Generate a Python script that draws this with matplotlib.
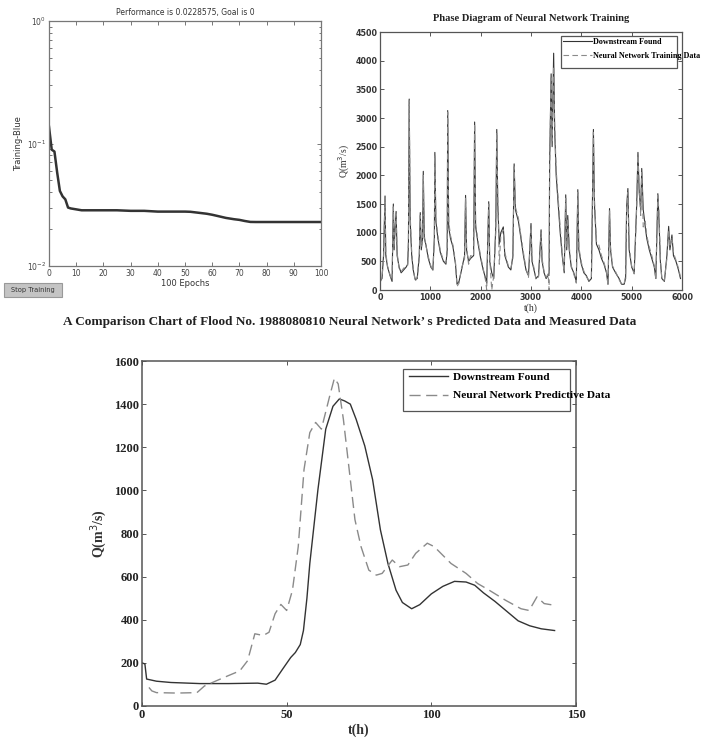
import matplotlib
matplotlib.use("Agg")
import matplotlib.pyplot as plt
from matplotlib.patches import Rectangle
from matplotlib.ticker import LogLocator, NullFormatter, MultipleLocator

# figure size in pixels
W, H = 712, 740

# --- training performance (top left) ---
epochs = [0, 1, 2, 3, 4, 5, 6, 7, 8, 10, 12, 15, 20, 25, 30, 35, 40, 45, 50,
          52, 55, 58, 60, 62, 65, 68, 70, 72, 74, 76, 80, 90, 100]
perf = [0.137, 0.089, 0.086, 0.058, 0.041, 0.037, 0.035, 0.030, 0.0295, 0.029,
        0.0285, 0.0285, 0.0285, 0.0285, 0.0282, 0.0282, 0.0278, 0.0278, 0.0278,
        0.0277, 0.0272, 0.0267, 0.0262, 0.0256, 0.0247, 0.0241, 0.0238, 0.0233,
        0.0229, 0.02286, 0.02286, 0.02286, 0.02286]

# --- training phase diagram (top right) ---
train_t = [0, 40, 70, 100, 115, 150, 200, 240, 265, 280, 300, 320, 340, 380, 420,
           470, 520, 550, 565, 580, 600, 630, 660, 700, 740, 780, 800, 820, 845,
           860, 880, 910, 960, 1010, 1050, 1080, 1090, 1110, 1150, 1200, 1260,
           1310, 1335, 1345, 1365, 1400, 1450, 1500, 1530, 1570, 1620, 1680, 1700,
           1720, 1760, 1800, 1860, 1880, 1900, 1950, 2000, 2050, 2100, 2120, 2160,
           2180, 2220, 2260, 2300, 2320, 2340, 2370, 2400, 2450, 2480, 2550, 2600,
           2640, 2665, 2690, 2750, 2800, 2850, 2900, 2950, 3000, 3020, 3060, 3100,
           3150, 3200, 3220, 3260, 3300, 3340, 3360, 3370, 3400, 3420, 3450, 3470,
           3500, 3540, 3580, 3620, 3660, 3690, 3710, 3730, 3760, 3800, 3850, 3900,
           3930, 3950, 4000, 4050, 4100, 4150, 4200, 4240, 4260, 4300, 4350, 4400,
           4450, 4500, 4530, 4560, 4580, 4620, 4680, 4750, 4800, 4850, 4880, 4900,
           4925, 4950, 5000, 5050, 5100, 5125, 5150, 5180, 5200, 5230, 5270, 5300,
           5350, 5400, 5450, 5480, 5520, 5540, 5570, 5600, 5650, 5700, 5735, 5760,
           5800, 5830, 5880, 5930, 5970]
train_obs = [150, 200, 600, 1640, 600, 400, 250, 150, 1500, 700, 1100, 1370, 600,
             400, 300, 350, 400, 450, 800, 3330, 1200, 600, 350, 180, 200, 600,
             1350, 700, 900, 2070, 900, 800, 550, 400, 350, 900, 2400, 1200, 900,
             650, 500, 450, 700, 3130, 1100, 900, 750, 450, 100, 150, 350, 600,
             1650, 700, 500, 550, 600, 2930, 1100, 800, 550, 350, 200, 120, 1540,
             500, 300, 200, 1100, 2800, 1500, 800, 1000, 1100, 600, 400, 350, 600,
             2200, 1400, 1200, 900, 600, 350, 250, 1160, 500, 350, 200, 250, 1050,
             500, 300, 200, 250, 300, 2200, 3770, 2500, 4130, 2800, 2000, 1500,
             1000, 600, 300, 1660, 700, 1300, 700, 400, 300, 150, 1750, 700, 450,
             300, 250, 150, 200, 2800, 1500, 800, 700, 550, 450, 300, 100, 1420,
             700, 400, 300, 200, 100, 100, 200, 1450, 1770, 700, 400, 300, 1500,
             2400, 1700, 1400, 2120, 1400, 1100, 900, 700, 550, 400, 200, 1680,
             1300, 500, 200, 150, 600, 1110, 700, 960, 600, 500, 350, 200]
train_pred = [120, 230, 550, 1600, 650, 420, 260, 170, 1450, 750, 1050, 1330, 650,
              380, 320, 380, 420, 430, 900, 3300, 1300, 650, 380, 150, 230, 550,
              1300, 750, 850, 2000, 950, 780, 580, 420, 330, 850, 2350, 1250, 950,
              680, 520, 470, 650, 3100, 1200, 950, 780, 480, 60, 120, 380, 550,
              1600, 750, 450, 600, 580, 2900, 1150, 850, 580, 380, 150, 0, 1500,
              550, 0, 250, 1000, 2750, 1600, 450, 950, 1050, 650, 420, 380, 550,
              2150, 1450, 1250, 950, 650, 380, 220, 1100, 550, 380, 180, 230, 1000,
              550, 320, 220, 280, 0, 2150, 3700, 2600, 3900, 2900, 2100, 1600,
              1100, 650, 320, 1600, 750, 1250, 750, 420, 280, 120, 1700, 750, 480,
              330, 230, 170, 220, 2750, 1600, 850, 780, 600, 480, 320, 80, 1380,
              750, 420, 320, 180, 100, 110, 250, 1400, 1700, 750, 420, 280, 1450,
              2350, 1800, 1300, 2050, 1100, 1200, 950, 750, 600, 420, 180, 1650,
              1400, 550, 180, 170, 550, 1050, 750, 920, 650, 520, 380, 230]

# --- flood 1988080810 comparison (bottom) ---
flood_obs_t = [0, 1, 1.6, 5, 10, 20, 30, 40, 43, 46, 48.6, 51.4, 53, 54.7, 55.8,
               57, 58, 60.8, 63.5, 66, 68.2, 70, 72, 74, 77, 79.7, 82.4, 85, 87.8,
               90, 93.2, 96, 100, 104, 108, 112, 115, 118, 122, 126, 130, 134,
               138, 142.6]
flood_obs_q = [200, 195, 125, 115, 109, 104, 104, 106, 101, 120, 171, 225, 248,
               285, 350, 500, 661, 1003, 1284, 1390, 1424, 1415, 1400, 1330, 1206,
               1050, 817, 661, 537, 480, 451, 470, 520, 555, 578, 575, 560, 525,
               485, 440, 395, 372, 358, 350]
flood_pred_t = [2.4, 3.4, 5, 12, 19, 21.6, 25.7, 29.7, 33.8, 36.5, 39, 41.9,
                43.9, 46, 48, 50, 52, 54, 56, 58, 60, 62, 64.9, 66.5, 67.8, 69.6,
                71.6, 73.6, 75.7, 78.4, 81, 83, 86.5, 89, 91.9, 94.6, 98.6, 101,
                106.8, 112, 116, 120, 125.7, 131, 133.8, 136.5, 139, 142.6]
flood_pred_q = [86, 70, 62, 60, 62, 93, 117, 140, 163, 210, 335, 327, 342, 428,
                471, 443, 537, 739, 1097, 1268, 1315, 1284, 1439, 1520, 1494, 1330,
                1097, 864, 739, 630, 607, 615, 677, 646, 654, 708, 755, 739, 661,
                615, 568, 537, 490, 451, 443, 506, 475, 467]

SERIF = ["Liberation Serif", "DejaVu Serif"]
DARK = "#333333"
LIGHT = "#8a8a8a"
SPINE = "#555555"


def px_box(left, top, right, bottom):
    """pixel box -> figure fraction rect"""
    return [left / W, 1 - bottom / H, (right - left) / W, (bottom - top) / H]


def matlab_box(ax, color=SPINE, lw=0.9):
    for s in ax.spines.values():
        s.set_color(color)
        s.set_linewidth(lw)
    ax.tick_params(which="both", direction="in", top=True, right=True,
                   color=color, length=3, width=0.7)
    ax.tick_params(which="minor", length=1.8)


def draw_legend(fig, handles, labels, anchor_px, box_px, fontsize, handlelength,
                handletextpad, labelspacing):
    leg = fig.legend(handles, labels, loc="upper left", frameon=False,
                     bbox_to_anchor=(anchor_px[0] / W, 1 - anchor_px[1] / H),
                     borderaxespad=0, borderpad=0, handlelength=handlelength,
                     handletextpad=handletextpad, labelspacing=labelspacing,
                     prop={"family": SERIF, "weight": "bold", "size": fontsize})
    l, t, r, b = box_px
    fig.add_artist(Rectangle((l / W, 1 - b / H), (r - l) / W, (b - t) / H,
                             transform=fig.transFigure, fill=False,
                             edgecolor=SPINE, linewidth=0.9))
    return leg


fig = plt.figure(figsize=(W / 100, H / 100), dpi=100)

# top left: training performance
ax1 = fig.add_axes(px_box(49, 21, 321, 266))
ax1.semilogy(epochs, perf, color=DARK, linewidth=1.8)
ax1.set_xlim(0, 100)
ax1.set_ylim(1e-2, 1e0)
ax1.xaxis.set_major_locator(MultipleLocator(10))
ax1.yaxis.set_major_locator(LogLocator(base=10, numticks=5))
ax1.yaxis.set_minor_locator(LogLocator(base=10, subs=range(2, 10), numticks=20))
ax1.yaxis.set_minor_formatter(NullFormatter())
matlab_box(ax1, color="#777777")
ax1.tick_params(labelsize=5.5, labelcolor="#444444", pad=2)
ax1.set_title("Performance is 0.0228575, Goal is 0", fontsize=5.5, color="#333333",
              pad=4)
ax1.set_xlabel("100 Epochs", fontsize=6, color="#333333", labelpad=1)
ax1.set_ylabel("Training-Blue", fontsize=6, color="#333333", labelpad=3)

# stop training button
fig.add_artist(Rectangle((4 / W, 1 - 297 / H), 58 / W, 14 / H,
                         transform=fig.transFigure, facecolor="#c4c4c4",
                         edgecolor="#999999", linewidth=0.8))
fig.text(33 / W, 1 - 290 / H, "Stop Training", fontsize=4.8, color="#333333",
         ha="center", va="center")

# top right: training phase diagram
ax2 = fig.add_axes(px_box(380, 32, 682, 290))
l_obs, = ax2.plot(train_t, train_obs, color=DARK, linewidth=0.8)
l_pred, = ax2.plot(train_t, train_pred, color=LIGHT, linewidth=0.8,
                   dashes=(5, 3))
ax2.set_xlim(0, 6000)
ax2.set_ylim(0, 4500)
ax2.xaxis.set_major_locator(MultipleLocator(1000))
ax2.yaxis.set_major_locator(MultipleLocator(500))
matlab_box(ax2)
ax2.tick_params(labelsize=5.8, pad=2)
for lab in ax2.get_xticklabels() + ax2.get_yticklabels():
    lab.set_fontweight("bold")
    lab.set_color("#333333")
ax2.set_title("Phase Diagram of Neural Network Training", fontsize=7.6,
              family=SERIF, fontweight="bold", color="#222222", pad=8)
ax2.set_xlabel("t(h)", fontsize=7, family=SERIF, color="#333333", labelpad=1)
ax2.set_ylabel("Q(m$^3$/s)", fontsize=7, family=SERIF, color="#333333",
               labelpad=2)
draw_legend(fig, [l_obs, l_pred],
            ["Downstream Found", "Neural Network Training Data"],
            (563, 38), (561, 36, 677, 68), 5.9, 3.5, 0.15, 0.7)

# bottom: flood comparison
ax3 = fig.add_axes(px_box(142, 361, 576, 706))
f_obs, = ax3.plot(flood_obs_t, flood_obs_q, color=DARK, linewidth=1.0)
f_pred, = ax3.plot(flood_pred_t, flood_pred_q, color=LIGHT, linewidth=1.0,
                   dashes=(8, 4))
ax3.set_xlim(0, 150)
ax3.set_ylim(0, 1600)
ax3.xaxis.set_major_locator(MultipleLocator(50))
ax3.yaxis.set_major_locator(MultipleLocator(200))
matlab_box(ax3, lw=1.1)
ax3.tick_params(labelsize=9, pad=2)
for lab in ax3.get_xticklabels() + ax3.get_yticklabels():
    lab.set_family(SERIF)
    lab.set_fontweight("bold")
    lab.set_color("#222222")
ax3.set_xlabel("t(h)", fontsize=10, family=SERIF, fontweight="bold",
               color="#333333", labelpad=2)
ax3.set_ylabel("Q(m$^3$/s)", fontsize=10, family=SERIF, fontweight="bold",
               color="#333333", labelpad=4)
fig.text(350 / W, 1 - 322 / H,
         "A Comparison Chart of Flood No. 1988080810 Neural Network\u2019 s "
         "Predicted Data and Measured Data",
         fontsize=9.5, family=SERIF, fontweight="bold", color="#222222",
         ha="center", va="center")
draw_legend(fig, [f_obs, f_pred],
            ["Downstream Found", "Neural Network Predictive Data"],
            (409, 372), (403, 369, 570, 411), 8.2, 3.4, 0.5, 0.75)

fig.savefig("out.png", dpi=100)
